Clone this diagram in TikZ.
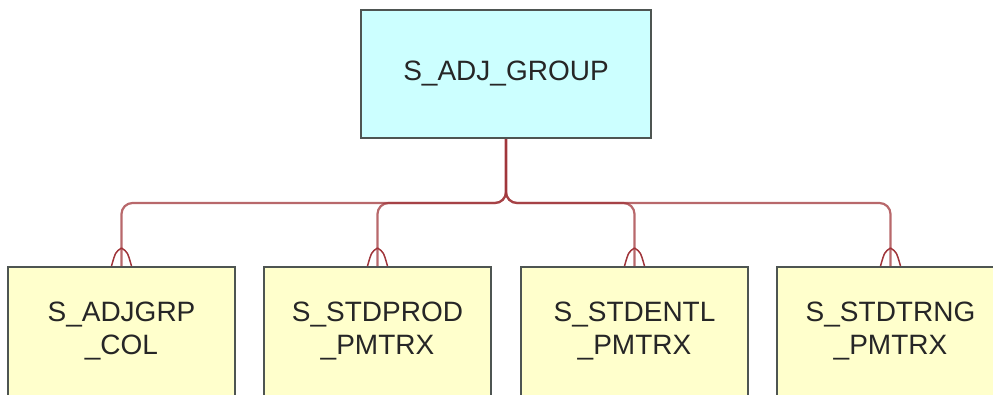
\documentclass[tikz,border=0pt]{standalone}
\usepackage{fontspec}
\setmainfont{Liberation Sans}
\usepackage{tikz}
\usetikzlibrary{positioning, calc}

\definecolor{relred}{HTML}{A0353A}
\definecolor{boxline}{HTML}{4E5552}
\definecolor{parentfill}{HTML}{CCFFFF}
\definecolor{childfill}{HTML}{FFFFCC}
\definecolor{labeltext}{HTML}{262626}

\begin{document}
\begin{tikzpicture}[
    x=1pt, y=-1pt,
    entity/.style={draw=boxline, line width=2pt, rectangle, align=center,
        text=labeltext, font=\fontsize{28}{33}\selectfont, inner sep=0pt},
    parent/.style={entity, fill=parentfill, minimum width=290pt, minimum height=128pt},
    child/.style={entity, fill=childfill, minimum width=227pt, minimum height=129pt},
    rel/.style={draw=relred, line width=2.2pt, draw opacity=0.75, rounded corners=11pt}
]
\useasboundingbox (0,0) rectangle (993,394);

% Parent table
\node[parent] (adjgroup) at (506,74) {S\_ADJ\_GROUP};

% Child tables
\node[child] (adjgrpcol)    at (121.5,331.5) {S\_ADJGRP\\\_COL};
\node[child] (stdprod)      at (377.5,331.5) {S\_STDPROD\\\_PMTRX};
\node[child] (stdentl)      at (634.5,331.5) {S\_STDENTL\\\_PMTRX};
\node[child] (stdtrng)      at (890.5,331.5) {S\_STDTRNG\\\_PMTRX};

% One-to-many relations with crow's feet
\foreach \kid in {adjgrpcol, stdprod, stdentl, stdtrng} {
    \draw[rel] (adjgroup.south) -- ++(0,64) -| (\kid.north);
    \draw[relred, line width=1.5pt]
        ($(\kid.north)+(0,-18)$) .. controls ($(\kid.north)+(-6,-14)$) .. ($(\kid.north)+(-10,0)$)
        ($(\kid.north)+(0,-18)$) .. controls ($(\kid.north)+(6,-14)$) .. ($(\kid.north)+(10,0)$);
}
\end{tikzpicture}
\end{document}
